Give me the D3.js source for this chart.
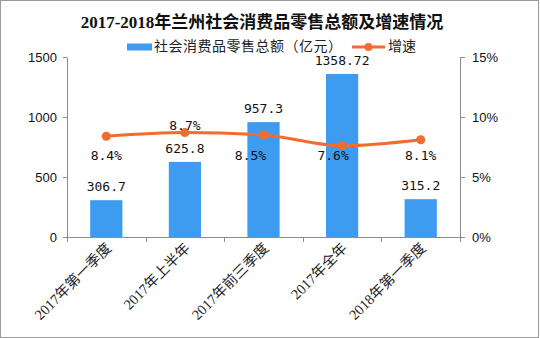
<!DOCTYPE html>
<html>
<head>
<meta charset="utf-8">
<script src="https://cdn.jsdelivr.net/npm/d3@7"></script>
<style>
  html, body { margin: 0; padding: 0; background: #fff; }
  svg { display: block; }
</style>
</head>
<body>
<svg id="chart" width="540" height="338"></svg>
<script>
// Retail sales of consumer goods in Lanzhou, 2017–2018
const categories = ["2017年第一季度", "2017年上半年", "2017年前三季度", "2017年全年", "2018年第一季度"];
const salesValues = [306.7, 625.8, 957.3, 1358.72, 315.2];   // 亿元
const growthValues = [8.4, 8.7, 8.5, 7.6, 8.1];              // %
const leftTicks = [0, 500, 1000, 1500];
const rightTicks = [0, 5, 10, 15];
const titleText = "2017-2018年兰州社会消费品零售总额及增速情况";
const barLegend = "社会消费品零售总额（亿元）";
const lineLegend = "增速";

const BLUE = "#3d9cf0";
const ORANGE = "#f26b2f";
const AXIS = "#8c8c8c";
const CJK = "'Noto Sans CJK SC', sans-serif";

const svg = d3.select("#chart");
const W = 540, H = 338;
const m = { left: 67, right: 80, top: 57, bottom: 101 };
const x0 = m.left, x1 = W - m.right, y0 = H - m.bottom, y1 = m.top;

// frame
svg.append("rect").attr("x", 0.5).attr("y", 0.5).attr("width", W - 2).attr("height", H - 1)
  .attr("fill", "#fff").attr("stroke", "#9a9a9a");

const x = d3.scaleBand().domain(categories).range([x0, x1]).paddingInner(0.59).paddingOuter(0.295);
const xc = d3.scalePoint().domain(categories).range([x0, x1]).padding(0.5);
const yL = d3.scaleLinear().domain([0, 1500]).range([y0, y1]);
const yR = d3.scaleLinear().domain([0, 15]).range([y0, y1]);

// title
svg.append("text").attr("x", 262).attr("y", 28).attr("text-anchor", "middle")
  .attr("font-family", "'Liberation Serif', 'Noto Sans CJK SC', serif")
  .attr("font-weight", "bold").attr("font-size", 17).attr("fill", "#111")
  .text(titleText);

// legend
const lg = svg.append("g").attr("font-family", CJK).attr("font-size", 14).attr("fill", "#222");
lg.append("rect").attr("x", 127).attr("y", 43.5).attr("width", 25).attr("height", 7).attr("fill", BLUE);
lg.append("text").attr("x", 154).attr("y", 51).attr("textLength", 188).text(barLegend);
lg.append("line").attr("x1", 352).attr("x2", 385).attr("y1", 47).attr("y2", 47)
  .attr("stroke", ORANGE).attr("stroke-width", 3);
lg.append("circle").attr("cx", 368.5).attr("cy", 47).attr("r", 4).attr("fill", ORANGE);
lg.append("text").attr("x", 388).attr("y", 51).text(lineLegend);

// left axis
const gL = svg.append("g").attr("transform", `translate(${x0},0)`)
  .call(d3.axisLeft(yL).tickValues(leftTicks).tickSize(4).tickSizeOuter(0).tickPadding(6).tickFormat(d3.format("d")));
// right axis
const gR = svg.append("g").attr("transform", `translate(${x1},0)`)
  .call(d3.axisRight(yR).tickValues(rightTicks).tickSize(5).tickSizeOuter(0).tickPadding(7).tickFormat(d => d + "%"));
[gL, gR].forEach(g => {
  g.select(".domain").attr("stroke", AXIS);
  g.selectAll(".tick line").attr("stroke", AXIS);
  g.selectAll(".tick text").attr("font-family", "'Liberation Sans', Arial, sans-serif")
    .attr("font-size", 13).attr("fill", "#111");
});

// bars
svg.append("g").selectAll("rect").data(salesValues).join("rect")
  .attr("x", (d, i) => x(categories[i]))
  .attr("y", d => yL(d))
  .attr("width", x.bandwidth())
  .attr("height", d => y0 - yL(d))
  .attr("fill", BLUE);

// bottom axis with ticks at category boundaries
const gB = svg.append("g").attr("transform", `translate(0,${y0})`);
gB.append("line").attr("x1", x0).attr("x2", x1).attr("y1", 0.5).attr("y2", 0.5).attr("stroke", AXIS);
const step = (x1 - x0) / categories.length;
d3.range(categories.length + 1).forEach(i => {
  const xx = Math.round(x0 + i * step) + 0.5;
  gB.append("line").attr("x1", xx).attr("x2", xx).attr("y1", 0).attr("y2", 5).attr("stroke", AXIS);
});
gB.selectAll("text.cat").data(categories).join("text").attr("class", "cat")
  .attr("transform", d => `translate(${xc(d) + 6},12) rotate(-45)`)
  .attr("text-anchor", "end")
  .attr("font-family", "'Liberation Serif', 'Noto Sans CJK SC', serif")
  .attr("font-size", 14.5).attr("fill", "#222")
  .text(d => d);

// bar value labels
svg.append("g").selectAll("text").data(salesValues).join("text")
  .attr("x", (d, i) => xc(categories[i]))
  .attr("y", d => yL(d) - 9)
  .attr("text-anchor", "middle")
  .attr("font-family", "'DejaVu Sans Mono', monospace").attr("font-size", 13).attr("fill", "#111")
  .text(d => d);

// growth line
const line = d3.line()
  .x((d, i) => xc(categories[i]))
  .y(d => yR(d))
  .curve(d3.curveMonotoneX);
svg.append("path").datum(growthValues).attr("d", line)
  .attr("fill", "none").attr("stroke", ORANGE).attr("stroke-width", 3);
svg.append("g").selectAll("circle").data(growthValues).join("circle")
  .attr("cx", (d, i) => xc(categories[i]))
  .attr("cy", d => yR(d))
  .attr("r", 4.5).attr("fill", ORANGE);

// growth labels: the highest point is labelled above, the rest share a row below the line;
// labels sitting on a bar are nudged left of it
const peak = growthValues.indexOf(d3.max(growthValues));
const belowRow = yR(d3.max(growthValues)) + 27;
const nudge = i => (i === 2 ? -13 : i === 3 ? -9 : 0);
svg.append("g").selectAll("text").data(growthValues).join("text")
  .attr("x", (d, i) => xc(categories[i]) + nudge(i))
  .attr("y", (d, i) => i === peak ? yR(d) - 3 : belowRow)
  .attr("text-anchor", "middle")
  .attr("font-family", "'DejaVu Sans Mono', monospace").attr("font-size", 13).attr("fill", "#111")
  .text(d => d.toFixed(1) + "%");
</script>
</body>
</html>
